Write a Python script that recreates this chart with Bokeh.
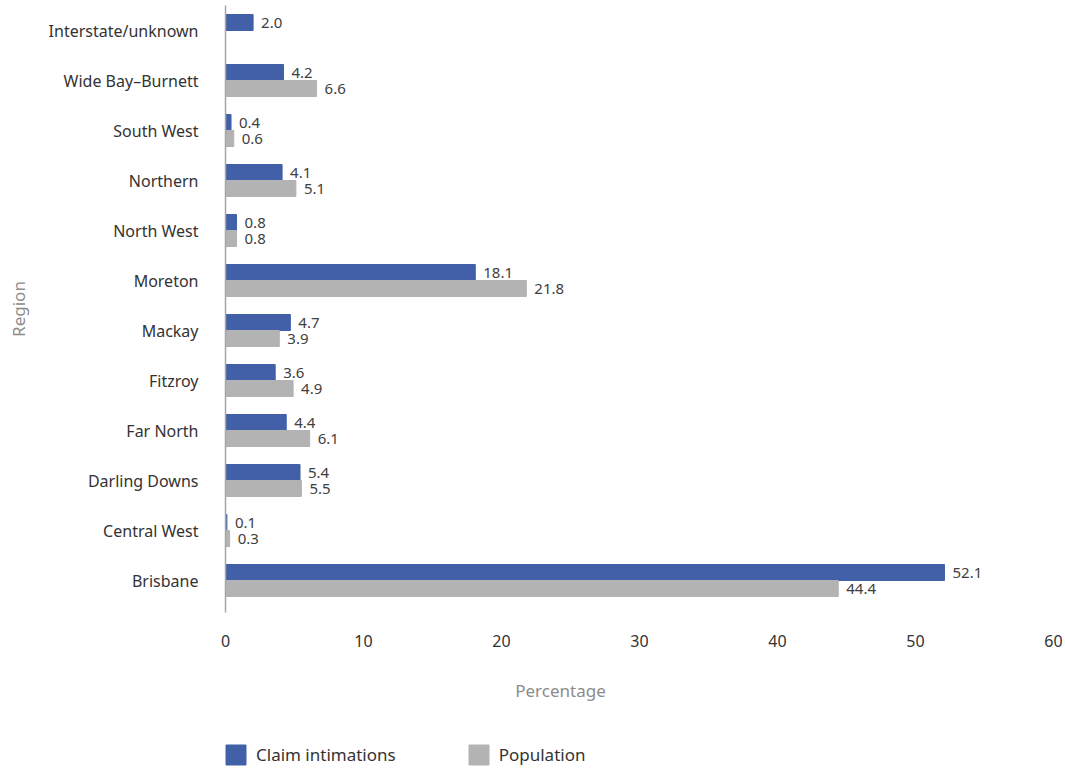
from bokeh.plotting import figure
from bokeh.layouts import column
from bokeh.models import Range1d, FixedTicker, ColumnDataSource, Legend, LegendItem, LabelSet, Label
from bokeh.core.properties import value
from bokeh.embed import file_html
from bokeh.resources import INLINE

regions = ["Brisbane", "Central West", "Darling Downs", "Far North", "Fitzroy", "Mackay",
           "Moreton", "North West", "Northern", "South West", "Wide Bay\u2013Burnett", "Interstate/unknown"]
claims = [52.1, 0.1, 5.4, 4.4, 3.6, 4.7, 18.1, 0.8, 4.1, 0.4, 4.2, 2.0]
population = [44.4, 0.3, 5.5, 6.1, 4.9, 3.9, 21.8, 0.8, 5.1, 0.6, 6.6, None]
series_names = ["Claim intimations", "Population"]
x_ticks = [0, 10, 20, 30, 40, 50, 60]
x_title = "Percentage"
y_title = "Region"

BLUE = "#4160A8"
GREY = "#B3B3B3"
FONT = "Noto Sans"

idx = list(range(len(regions)))
claim_src = ColumnDataSource(dict(y=[i + 0.16 for i in idx], v=claims,
                                  lab=[f"{v:.1f}" for v in claims]))
pi = [i for i in idx if population[i] is not None]
pop_src = ColumnDataSource(dict(y=[i - 0.16 for i in pi], v=[population[i] for i in pi],
                                lab=[f"{population[i]:.1f}" for i in pi]))

p = figure(width=1065, height=660, output_backend="svg", toolbar_location=None,
           x_range=Range1d(0, 60), y_range=Range1d(-0.64, 11.5),
           min_border_left=225, min_border_right=12, min_border_top=5, min_border_bottom=48)
p.outline_line_color = None
p.xgrid.visible = False
p.ygrid.visible = False

p.hbar(y="y", right="v", left=0, height=0.32, color=BLUE, source=claim_src)
p.hbar(y="y", right="v", left=0, height=0.32, color=GREY, source=pop_src)

for src in (claim_src, pop_src):
    p.add_layout(LabelSet(x="v", y="y", text="lab", source=src, x_offset=8, text_baseline="middle",
                          text_font=value(FONT), text_font_size="15px", text_color="#404040"))

p.xaxis.ticker = FixedTicker(ticks=x_ticks)
p.xaxis.axis_line_color = None
p.xaxis.major_tick_line_color = None
p.xaxis.minor_tick_line_color = None
p.xaxis.major_label_standoff = 16
p.xaxis.major_label_text_font = FONT
p.xaxis.major_label_text_font_size = "16px"
p.xaxis.major_label_text_color = "#333333"

p.yaxis.ticker = FixedTicker(ticks=idx)
p.yaxis.major_label_overrides = {i: r for i, r in enumerate(regions)}
p.yaxis.axis_line_color = "#a6a6a6"
p.yaxis.axis_line_width = 1.5
p.yaxis.major_tick_line_color = None
p.yaxis.minor_tick_line_color = None
p.yaxis.major_label_standoff = 21
p.yaxis.major_label_text_font = FONT
p.yaxis.major_label_text_font_size = "16px"
p.yaxis.major_label_text_color = "#333333"
p.yaxis.axis_label = y_title
p.yaxis.axis_label_standoff = 16
p.yaxis.axis_label_text_font = FONT
p.yaxis.axis_label_text_font_size = "17px"
p.yaxis.axis_label_text_font_style = "normal"
p.yaxis.axis_label_text_color = "#8c8c8c"

# bottom strip: x-axis title and legend
lg = figure(width=1065, height=110, output_backend="svg", toolbar_location=None,
            x_range=Range1d(0, 60), y_range=Range1d(0, 1),
            x_axis_location=None, y_axis_location=None, min_border=0)
lg.outline_line_color = None
lg.xgrid.visible = False
lg.ygrid.visible = False
lg.add_layout(Label(x=335, y=80, x_units="screen", y_units="screen", text=x_title,
                    text_align="center", text_baseline="middle", text_font=FONT,
                    text_font_size="17px", text_color="#8c8c8c"))
d1 = lg.hbar(y="y", right="v", left=0, height=0.32, color=BLUE, source=claim_src, visible=False)
d2 = lg.hbar(y="y", right="v", left=0, height=0.32, color=GREY, source=pop_src, visible=False)
legend = Legend(items=[LegendItem(label=series_names[0], renderers=[d1]),
                       LegendItem(label=series_names[1], renderers=[d2])],
                orientation="horizontal", location=(-2, 3), margin=0, padding=0,
                label_text_font=FONT, label_text_font_size="17px", label_text_color="#333333",
                glyph_width=25, glyph_height=25, label_height=25, spacing=70, label_standoff=8,
                border_line_color=None, background_fill_alpha=0)
lg.add_layout(legend, "center")

open("out.html", "w").write(file_html(column(p, lg, spacing=0), INLINE))
